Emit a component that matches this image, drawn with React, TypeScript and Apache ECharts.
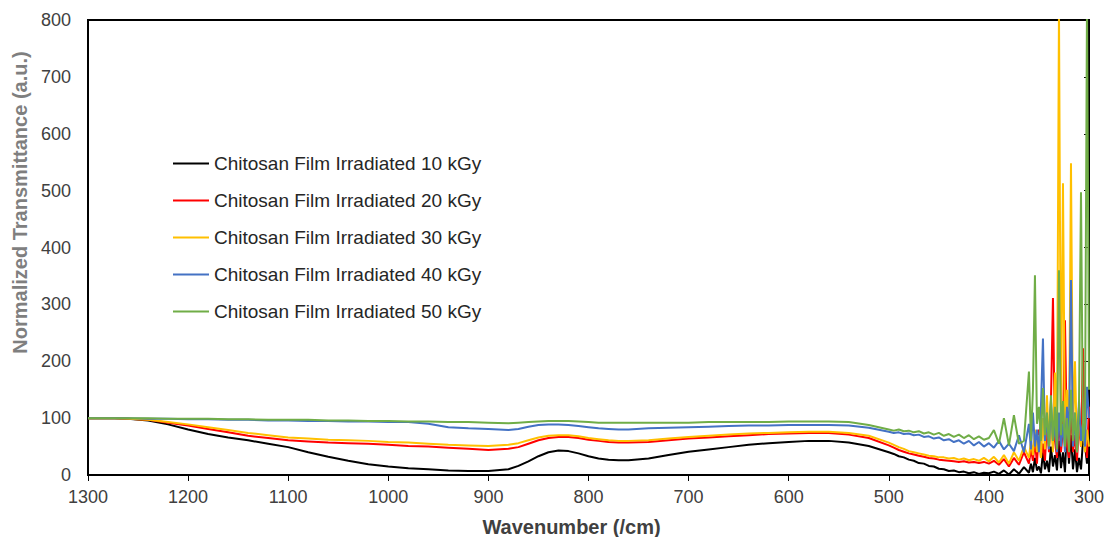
import React, { useEffect, useRef } from "react";
import * as echarts from "echarts";

const wavenumbers = [
  1300, 1280, 1260, 1240, 1220, 1200, 1180, 1160, 1140, 1120, 1100, 1080, 1060, 1040, 1020, 1000,
  980, 960, 940, 920, 900, 880, 870, 860, 850, 840, 830, 820, 810, 800, 790, 780, 770, 760, 740,
  720, 700, 680, 660, 640, 620, 600, 580, 560, 540, 520,
  500, 495, 490, 485, 480, 475, 470, 465, 460, 455, 450, 445, 440, 435, 430, 425, 420, 415, 410,
  405, 400, 395, 390, 385, 380, 375, 370, 365, 360,
  358, 356, 354, 352, 350, 348, 346, 344, 342, 340, 338, 336, 334, 332, 330, 328, 326, 324, 322,
  320, 318, 316, 314, 312, 310, 308, 306, 304, 302, 300,
];

const seriesNames = [
  "Chitosan Film Irradiated 10 kGy",
  "Chitosan Film Irradiated 20 kGy",
  "Chitosan Film Irradiated 30 kGy",
  "Chitosan Film Irradiated 40 kGy",
  "Chitosan Film Irradiated 50 kGy",
];

const kGy10 = [
  100, 100, 99, 96, 89, 80, 72, 66, 61, 55, 49, 40, 32, 25, 19, 15,
  12, 10, 8, 7, 7, 10, 16, 24, 33, 40, 43, 42, 38, 33, 29, 27, 26, 26, 29,
  35, 41, 45, 49, 53, 56, 58, 60, 60, 57, 51,
  40, 37, 33, 31, 27, 25, 21, 20, 16, 15, 11, 10, 7, 8, 5, 6, 3, 5, 2,
  4, 3, 6, 2, 8, 1, 10, 2, 14, 4,
  20, 5, 30, 8, 15, 3, 40, 10, 25, 5, 50, 15, 35, 8, 60, 12, 40, 5, 90,
  20, 70, 10, 45, 5, 30, 10, 60, 53, 20, 67,
];

const kGy20 = [
  100, 100, 99, 97, 92, 87, 81, 75, 69, 65, 61, 59, 57, 56, 55, 53,
  51, 50, 48, 46, 44, 46, 49, 55, 61, 65, 67, 67, 65, 62, 60, 58, 57, 57, 58,
  61, 64, 66, 68, 70, 72, 73, 74, 74, 71, 65,
  52, 48, 44, 41, 38, 36, 34, 32, 30, 29, 27, 26, 25, 24, 23, 24, 22, 23, 21,
  23, 20, 25, 18, 28, 15, 30, 18, 40, 20,
  45, 25, 60, 20, 80, 30, 55, 25, 90, 40, 130, 311, 60, 30, 100, 40, 80, 272, 50,
  30, 120, 40, 70, 25, 90, 50, 223, 60, 30, 120,
];

const kGy30 = [
  100, 100, 99, 97, 93, 89, 84, 79, 74, 70, 66, 64, 62, 61, 60, 58,
  57, 55, 53, 52, 51, 53, 56, 61, 66, 69, 70, 70, 68, 65, 63, 61, 60, 60, 61,
  64, 67, 69, 71, 73, 74, 75, 76, 76, 74, 69,
  57, 53, 49, 46, 42, 40, 38, 36, 34, 33, 31, 31, 29, 30, 27, 29, 26, 28, 25,
  30, 24, 32, 22, 35, 20, 40, 25, 50, 30,
  60, 35, 80, 40, 70, 30, 100, 45, 140, 50, 90, 40, 180, 60, 820, 80, 513, 60, 150,
  50, 548, 70, 200, 40, 120, 50, 90, 40, 80, 50,
];

const kGy40 = [
  100, 100, 100, 99, 99, 98, 98, 97, 97, 96, 96, 95, 95, 94, 94, 93,
  93, 90, 84, 82, 81, 79, 81, 85, 88, 89, 89, 88, 86, 84, 82, 81, 80, 80, 82,
  83, 84, 85, 86, 87, 87, 88, 88, 88, 87, 83,
  76, 74, 75, 72, 73, 70, 71, 67, 68, 64, 66, 61, 63, 58, 61, 55, 60, 52, 58,
  50, 56, 48, 60, 45, 55, 42, 70, 40, 90,
  45, 110, 50, 80, 40, 120, 240, 60, 100, 45, 130, 60, 90, 40, 110, 50, 90, 40, 120,
  60, 343, 50, 100, 40, 130, 60, 90, 50, 155, 100,
];

const kGy50 = [
  100, 100, 100, 100, 99, 99, 99, 98, 98, 97, 97, 97, 96, 96, 95, 95,
  94, 94, 93, 93, 92, 91, 92, 93, 94, 95, 95, 95, 94, 93, 92, 92, 92, 92, 92,
  92, 92, 93, 93, 93, 93, 94, 94, 94, 93, 88,
  80, 78, 80, 77, 78, 75, 77, 73, 75, 71, 74, 69, 72, 67, 71, 65, 70, 63, 68,
  62, 65, 79, 55, 100, 52, 105, 55, 60, 182,
  60, 150, 351, 90, 120, 60, 153, 70, 110, 50, 140, 60, 120, 45, 360, 70, 130, 50, 100,
  40, 150, 60, 110, 40, 120, 497, 60, 90, 830, 150,
];

const seriesValues = [kGy10, kGy20, kGy30, kGy40, kGy50];
const seriesColors = ["#000000", "#ff0000", "#ffc000", "#4472c4", "#70ad47"];

const xTicks = { min: 300, max: 1300, interval: 100 };
const yTicks = { min: 0, max: 800, interval: 100 };

export default function App() {
  const ref = useRef<HTMLDivElement>(null);
  useEffect(() => {
    if (!ref.current) return;
    const chart = echarts.init(ref.current, null, { renderer: "svg" });
    const font = "'Liberation Sans', Arial, sans-serif";
    chart.setOption({
      animation: false,
      backgroundColor: "#ffffff",
      textStyle: { fontFamily: font },
      grid: {
        left: 88,
        right: 15,
        top: 20,
        bottom: 62,
        containLabel: false,
        outerBoundsMode: "none",
        show: true,
        borderColor: "#000000",
        borderWidth: 2,
      },
      legend: {
        orient: "vertical",
        left: 173,
        top: 154,
        padding: 0,
        icon: "rect",
        itemWidth: 36,
        itemHeight: 2,
        itemGap: 18,
        textStyle: { fontFamily: font, fontSize: 19, color: "#262626" },
        data: seriesNames,
      },
      xAxis: [
        {
          type: "value",
          inverse: true,
          min: xTicks.min,
          max: xTicks.max,
          interval: xTicks.interval,
          name: "Wavenumber (/cm)",
          nameLocation: "middle",
          nameGap: 42,
          nameTextStyle: {
            fontFamily: font,
            fontSize: 20,
            fontWeight: "bold",
            color: "#404040",
            padding: [0, 34, 0, 0],
          },
          axisLine: { show: true, onZero: false, lineStyle: { color: "#000000", width: 2 } },
          axisTick: { show: true, inside: false, length: 6, lineStyle: { color: "#000000" } },
          axisLabel: {
            fontFamily: font,
            fontSize: 18,
            color: "#404040",
            margin: 13,
            formatter: (v: number) => String(v),
          },
          splitLine: { show: false },
        },
      ],
      yAxis: [
        {
          type: "value",
          min: yTicks.min,
          max: yTicks.max,
          interval: yTicks.interval,
          name: "Normalized Transmittance (a.u.)",
          nameLocation: "middle",
          nameGap: 56,
          nameTextStyle: {
            fontFamily: font,
            fontSize: 20,
            fontWeight: "bold",
            color: "#7f7f7f",
            padding: [0, 0, 0, 90],
          },
          axisLine: { show: true, lineStyle: { color: "#000000", width: 2 } },
          axisTick: { show: false },
          axisLabel: { fontFamily: font, fontSize: 18, color: "#404040", margin: 17 },
          splitLine: { show: false },
        },
        {
          type: "value",
          position: "right",
          min: yTicks.min,
          max: yTicks.max,
          interval: yTicks.interval,
          axisLine: { show: true, lineStyle: { color: "#000000", width: 2 } },
          axisTick: { show: true, inside: true, length: 5, lineStyle: { color: "#000000" } },
          axisLabel: { show: false },
          splitLine: { show: false },
        },
      ],
      series: seriesNames.map((name, i) => ({
        name,
        type: "line",
        yAxisIndex: 0,
        showSymbol: false,
        symbol: "none",
        clip: true,
        lineStyle: { color: seriesColors[i], width: 2 },
        itemStyle: { color: seriesColors[i] },
        data: wavenumbers.map((w, j) => [w, seriesValues[i][j]]),
      })),
    });
    return () => chart.dispose();
  }, []);
  return (
    <div
      ref={ref}
      style={{ position: "fixed", left: 0, top: 0, width: 1104, height: 537 }}
    />
  );
}
